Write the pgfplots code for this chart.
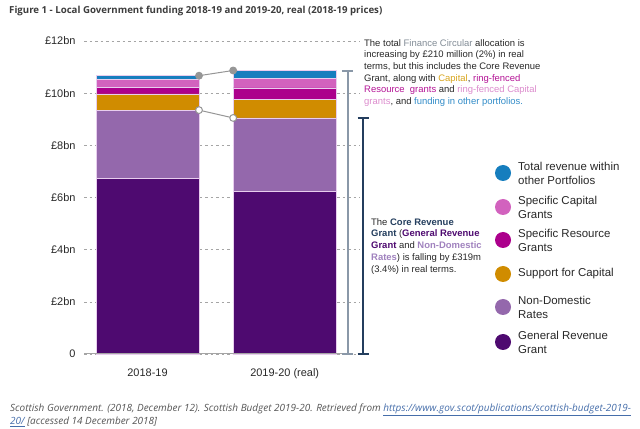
\documentclass[border=0pt]{standalone}
\usepackage{fontspec}
\setmainfont{Liberation Sans}
\newfontfamily\opensans{Open Sans}
\usepackage{pgfplots}
\pgfplotsset{compat=1.18}
\definecolor{cGRG}{RGB}{78,10,112}
\definecolor{cNDR}{RGB}{148,104,172}
\definecolor{cSFC}{RGB}{208,140,0}
\definecolor{cSRG}{RGB}{172,0,140}
\definecolor{cSCG}{RGB}{210,98,190}
\definecolor{cOTH}{RGB}{22,126,190}
\definecolor{bgray}{RGB}{138,152,168}
\definecolor{navy}{RGB}{36,62,94}
\definecolor{gridgray}{RGB}{165,165,165}
\definecolor{txt}{RGB}{40,40,40}
\definecolor{sep}{RGB}{232,205,238}
\definecolor{conn}{RGB}{150,150,150}
\definecolor{finc}{RGB}{130,140,150}
\definecolor{capc}{RGB}{215,165,30}
\definecolor{resc}{RGB}{180,20,150}
\definecolor{scgc}{RGB}{220,140,205}
\definecolor{othc}{RGB}{50,140,200}
\definecolor{ndrc}{RGB}{160,130,190}
\definecolor{linkc}{RGB}{70,110,170}
\begin{document}
\begin{tikzpicture}[x=1bp,y=1bp]
\useasboundingbox (0bp,0bp) rectangle (640bp,429bp);
\pgfplotsset{base/.style={
  at={(84bp,75bp)}, anchor=south west,
  scale only axis, width=276bp, height=313bp,
  xmin=-0.463, xmax=1.549, ymin=0, ymax=12,
  clip=false, enlargelimits=false}}
\begin{axis}[base,
  ybar stacked, bar width=0.751,
  xtick={0,1}, xticklabels={2018-19,2019-20 (real)},
  ytick={0,2,4,6,8,10,12}, yticklabels={0,£2bn,£4bn,£6bn,£8bn,£10bn,£12bn},
  ymajorgrids, grid style={gridgray, dash pattern=on 2.5bp off 3bp, line width=0.6bp},
  axis line style={draw=none}, major tick length=0pt, tick style={draw=none},
  tick label style={font=\fontsize{11}{13}\selectfont, text=txt},
  yticklabel style={xshift=-5bp},
  xticklabel style={yshift=-11bp},
  every axis plot/.append style={draw=sep, line width=0.6bp}]
\draw[gridgray, line width=1bp] (axis cs:-0.463,0) -- (axis cs:1.42,0);
\addplot[fill=cGRG] coordinates {(0,6.72) (1,6.22)};
\addplot[fill=cNDR] coordinates {(0,2.63) (1,2.83)};
\addplot[fill=cSFC] coordinates {(0,0.62) (1,0.70)};
\addplot[fill=cSRG] coordinates {(0,0.25) (1,0.45)};
\addplot[fill=cSCG] coordinates {(0,0.30) (1,0.38)};
\addplot[fill=cOTH] coordinates {(0,0.15) (1,0.29)};
\end{axis}
\begin{axis}[base, hide axis]
\addplot[conn, line width=1bp, mark=*, mark size=3.4bp, mark options={fill=conn, draw=conn}] coordinates {(0.3755,10.67) (0.6245,10.87)};
\addplot[conn, line width=1bp, mark=*, mark size=3.4bp, mark options={fill=white, draw=conn}] coordinates {(0.3755,9.35) (0.6245,9.05)};
\draw[bgray, line width=2bp] (axis cs:1.459,0) -- (axis cs:1.459,10.84);
\draw[bgray, line width=2bp] (axis cs:1.417,10.84) -- (axis cs:1.501,10.84);
\draw[bgray, line width=2bp] (axis cs:1.417,0) -- (axis cs:1.501,0);
\draw[navy, line width=2.2bp] (axis cs:1.573,0) -- (axis cs:1.573,9.05);
\draw[navy, line width=2.2bp] (axis cs:1.531,9.05) -- (axis cs:1.615,9.05);
\draw[navy, line width=2.2bp] (axis cs:1.531,0) -- (axis cs:1.615,0);
\end{axis}
% title
\node[anchor=west, inner sep=0pt, font=\opensans\bfseries\fontsize{9.7}{11}\selectfont, text={rgb,255:red,60;green,60;blue,60}] at (9bp,418bp) {Figure 1 - Local Government funding 2018-19 and 2019-20, real (2018-19 prices)};
% annotation 1
\node[anchor=north west, inner sep=0pt, align=left, text=txt, font=\fontsize{9.5}{11.7}\selectfont] at (364bp,390bp) {The total \textcolor{finc}{Finance Circular} allocation is\\
increasing by £210 million (2\%) in real\\
terms, but this includes the Core Revenue\\
Grant, along with \textcolor{capc}{Capital}, \textcolor{resc}{ring-fenced}\\
\textcolor{resc}{Resource\ \ grants} and \textcolor{scgc}{ring-fenced Capital}\\
\textcolor{scgc}{grants}, and \textcolor{othc}{funding in other portfolios.}};
% annotation 2
\node[anchor=north west, inner sep=0pt, align=left, text=txt, font=\fontsize{9.5}{11.8}\selectfont] at (371bp,211bp) {The \textbf{\textcolor{navy}{Core Revenue}}\\
\textbf{\textcolor{navy}{Grant}} (\textbf{\textcolor{cGRG}{General Revenue}}\\
\textbf{\textcolor{cGRG}{Grant}} and \textbf{\textcolor{ndrc}{Non-Domestic}}\\
\textbf{\textcolor{ndrc}{Rates}}) is falling by £319m\\
(3.4\%) in real terms.};
% legend
\foreach \y/\c/\t in {173/cOTH/{Total revenue within\\other Portfolios},
  207/cSCG/{Specific Capital\\Grants},
  240/cSRG/{Specific Resource\\Grants},
  274/cSFC/{Support for Capital},
  307/cNDR/{Non-Domestic\\Rates},
  342/cGRG/{General Revenue\\Grant}}{
  \fill[\c] (503bp,429bp-\y bp) circle (8bp);
  \node[anchor=west, inner sep=0pt, align=left, text=txt, font=\fontsize{11.5}{14}\selectfont] at (518bp,429bp-\y bp) {\t};
}
% footnote
\node[anchor=north west, inner sep=0pt, align=left, text={rgb,255:red,85;green,85;blue,85}, font=\opensans\itshape\fontsize{10}{13}\selectfont] at (10bp,25bp) {Scottish Government. (2018, December 12). Scottish Budget 2019-20. Retrieved from \textcolor{linkc}{\underline{https://www.gov.scot/publications/scottish-budget-2019-}}\\
\textcolor{linkc}{\underline{20/}} [accessed 14 December 2018]};
\end{tikzpicture}
\end{document}
